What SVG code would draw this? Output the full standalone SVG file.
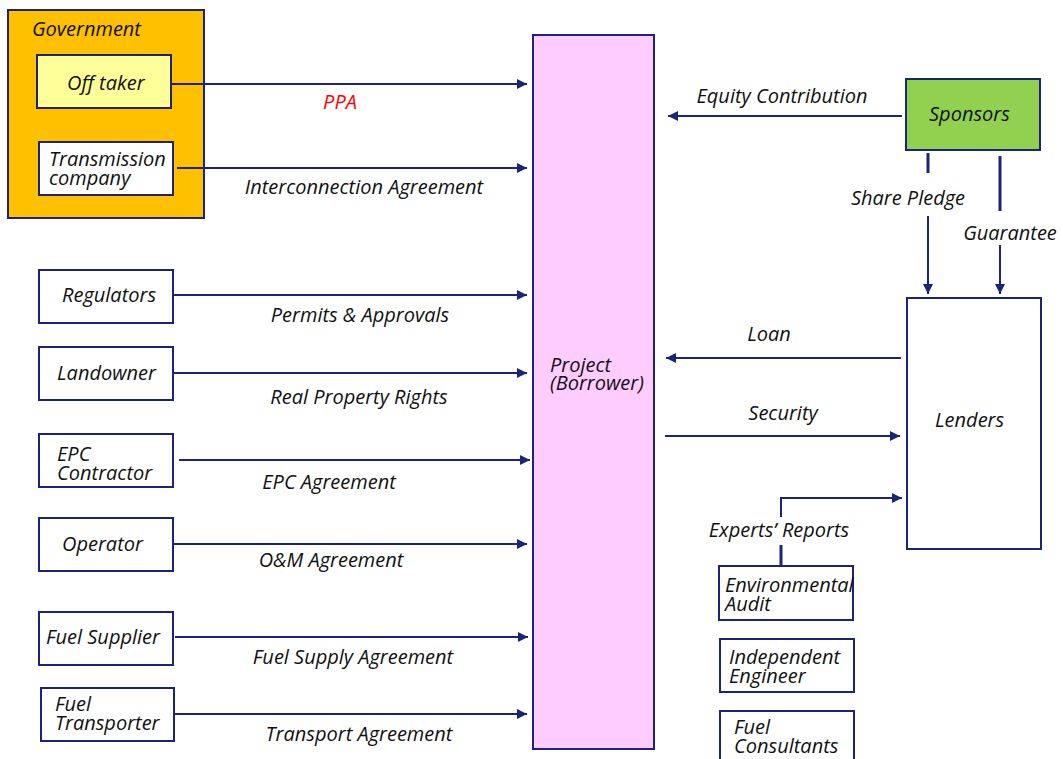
<svg xmlns="http://www.w3.org/2000/svg" width="1063" height="759" viewBox="0 0 1063 759">
  <defs>
    <marker id="arr" viewBox="0 0 10 10" refX="10" refY="5" markerWidth="10" markerHeight="10" markerUnits="userSpaceOnUse" orient="auto">
      <path d="M0,0 L10,5 L0,10 z" fill="#1b237a"/>
    </marker>
    <style>
      .box { stroke: #1b237a; stroke-width: 2; fill: #ffffff; }
      .t { font-family: "Open Sans", "DejaVu Sans", sans-serif; font-style: italic; font-size: 20px; fill: #111111; }
      .lbl { font-family: "Open Sans", "DejaVu Sans", sans-serif; font-style: italic; font-size: 20px; fill: #111111; text-anchor: middle; }
      .ln { stroke: #1b237a; stroke-width: 2; fill: none; }
      .lnA { stroke: #1b237a; stroke-width: 2; fill: none; marker-end: url(#arr); }
      .thick { stroke: #1b237a; stroke-width: 3; fill: none; }
    </style>
  </defs>
  <rect width="1063" height="759" fill="#ffffff"/>

  <!-- Government group -->
  <g id="government">
    <rect x="8" y="10" width="196" height="208" class="box" style="fill:#ffc000"/>
    <text x="32" y="36" class="t">Government</text>
  </g>
  <g id="offtaker">
    <rect x="37" y="55" width="134" height="53" class="box" style="fill:#ffff99"/>
    <text x="67" y="90" class="t">Off taker</text>
  </g>
  <g id="transmission">
    <rect x="39" y="142" width="134" height="53" class="box"/>
    <text x="49" y="166" class="t">Transmission</text>
    <text x="49" y="185" class="t">company</text>
  </g>

  <!-- Left-hand parties -->
  <g id="regulators">
    <rect x="39" y="270" width="134" height="53" class="box"/>
    <text x="62" y="302" class="t">Regulators</text>
  </g>
  <g id="landowner">
    <rect x="39" y="347" width="134" height="53" class="box"/>
    <text x="57" y="380" class="t">Landowner</text>
  </g>
  <g id="epc">
    <rect x="39" y="434" width="134" height="53" class="box"/>
    <text x="57" y="461" class="t">EPC</text>
    <text x="57" y="480" class="t">Contractor</text>
  </g>
  <g id="operator">
    <rect x="39" y="518" width="134" height="53" class="box"/>
    <text x="62" y="551" class="t">Operator</text>
  </g>
  <g id="fuelsupplier">
    <rect x="39" y="612" width="134" height="53" class="box"/>
    <text x="46" y="644" class="t">Fuel Supplier</text>
  </g>
  <g id="fueltransporter">
    <rect x="41" y="688" width="133" height="53" class="box"/>
    <text x="55" y="711" class="t">Fuel</text>
    <text x="55" y="730" class="t">Transporter</text>
  </g>

  <!-- Project -->
  <g id="project">
    <rect x="533" y="35" width="121" height="714" class="box" style="fill:#ffccff"/>
    <text x="550" y="372" class="t">Project</text>
    <text x="550" y="390" class="t">(Borrower)</text>
  </g>

  <!-- Right-hand parties -->
  <g id="sponsors">
    <rect x="906" y="79" width="134" height="71" class="box" style="fill:#92d050"/>
    <text x="929" y="121" class="t">Sponsors</text>
  </g>
  <g id="lenders">
    <rect x="907" y="298" width="134" height="251" class="box"/>
    <text x="935" y="427" class="t">Lenders</text>
  </g>
  <g id="envaudit">
    <rect x="719" y="566" width="134" height="54" class="box"/>
    <text x="725" y="592" class="t">Environmental</text>
    <text x="725" y="611" class="t">Audit</text>
  </g>
  <g id="indengineer">
    <rect x="720" y="639" width="134" height="53" class="box"/>
    <text x="729" y="664" class="t">Independent</text>
    <text x="729" y="683" class="t">Engineer</text>
  </g>
  <g id="fuelconsultants">
    <rect x="720" y="711" width="134" height="60" class="box"/>
    <text x="734" y="734" class="t">Fuel</text>
    <text x="734" y="753" class="t">Consultants</text>
  </g>

  <!-- Connectors -->
  <g id="connectors">
    <line x1="171" y1="84" x2="527" y2="84" class="lnA"/>
    <line x1="177" y1="168" x2="527" y2="168" class="lnA"/>
    <line x1="173" y1="295" x2="527" y2="295" class="lnA"/>
    <line x1="173" y1="373" x2="527" y2="373" class="lnA"/>
    <line x1="179" y1="460" x2="530" y2="460" class="lnA"/>
    <line x1="173" y1="544" x2="527" y2="544" class="lnA"/>
    <line x1="175" y1="637" x2="528" y2="637" class="lnA"/>
    <line x1="175" y1="714" x2="527" y2="714" class="lnA"/>

    <line x1="902" y1="116" x2="668" y2="116" class="lnA"/>
    <line x1="901" y1="358" x2="666" y2="358" class="lnA"/>
    <line x1="665" y1="436" x2="900" y2="436" class="lnA"/>

    <line x1="928" y1="153" x2="928" y2="173" class="thick"/>
    <line x1="928" y1="216" x2="928" y2="294" class="lnA"/>
    <line x1="1000" y1="156" x2="1000" y2="211" class="thick"/>
    <line x1="1000" y1="245" x2="1000" y2="294" class="lnA"/>

    <line x1="781" y1="545" x2="781" y2="566" class="thick"/>
    <polyline points="781,517 781,498 902,498" class="lnA"/>
  </g>

  <!-- Connector labels -->
  <g id="labels">
    <text x="340" y="109" class="lbl" style="fill:#ff0000">PPA</text>
    <text x="364" y="194" class="lbl">Interconnection Agreement</text>
    <text x="360" y="322" class="lbl">Permits &amp; Approvals</text>
    <text x="359" y="404" class="lbl">Real Property Rights</text>
    <text x="329" y="489" class="lbl">EPC Agreement</text>
    <text x="331" y="567" class="lbl">O&amp;M Agreement</text>
    <text x="353" y="664" class="lbl">Fuel Supply Agreement</text>
    <text x="359" y="741" class="lbl">Transport Agreement</text>
    <text x="782" y="103" class="lbl">Equity Contribution</text>
    <text x="908" y="205" class="lbl">Share Pledge</text>
    <text x="1010" y="240" class="lbl">Guarantee</text>
    <text x="769" y="341" class="lbl">Loan</text>
    <text x="783" y="420" class="lbl">Security</text>
    <text x="779" y="537" class="lbl">Experts’ Reports</text>
  </g>
</svg>
